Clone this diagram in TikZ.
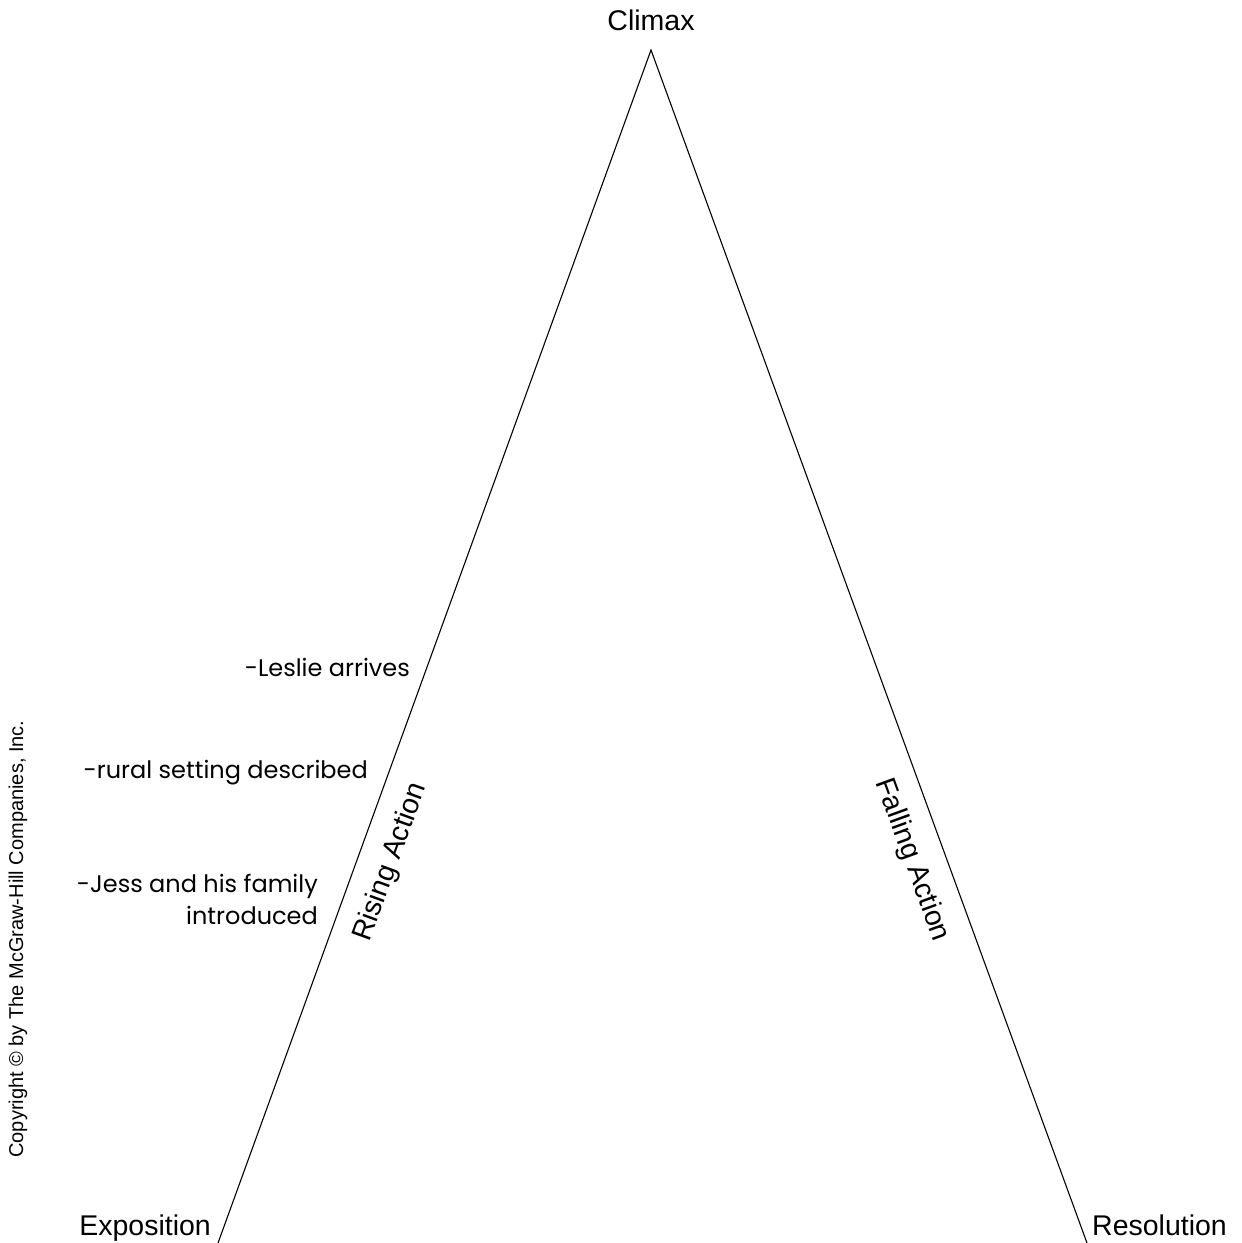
\documentclass[tikz,border=0pt]{standalone}
\usepackage{fontspec}
\setmainfont{Liberation Sans}
\newfontfamily\handfont{Poppins}
\usetikzlibrary{positioning}

\begin{document}
\begin{tikzpicture}[x=1pt, y=-1pt,
  stage/.style={font=\fontsize{28.5}{30}\selectfont, inner sep=0pt},
  note/.style={font=\handfont\fontsize{24}{32}\selectfont, inner sep=0pt,
               align=right, anchor=east},
  side/.style={font=\fontsize{20}{22}\selectfont, inner sep=0pt},
]
\useasboundingbox (0,0) rectangle (1242,1243);

% Plot line
\coordinate (expo) at (218,1243);
\coordinate (peak) at (651,50);
\coordinate (reso) at (1087,1243);
\draw[line width=1.1pt] (expo) -- (peak) -- (reso);

% Stage labels
\node[stage, anchor=base] (climax) at (651,30) {Climax};
\node[stage, anchor=base east] (exposition) at (211,1235) {Exposition};
\node[stage, anchor=base west] (resolution) at (1092,1235) {Resolution};
\node[stage, rotate=70] (rising) at (391,862) {Rising Action};
\node[stage, rotate=-70] (falling) at (912,860) {Falling Action};

% Notes on the rising side
\node[note] (leslie) at (410,667) {-Leslie arrives};
\node[note] (rural) at (368,773) {-rural setting described};
\node[note] (jess) at (318,899) {-Jess and his family\\introduced};

% Copyright
\node[side, rotate=90] (copy) at (18,939) {Copyright \textcopyright\ by The McGraw-Hill Companies, Inc.};
\end{tikzpicture}
\end{document}
